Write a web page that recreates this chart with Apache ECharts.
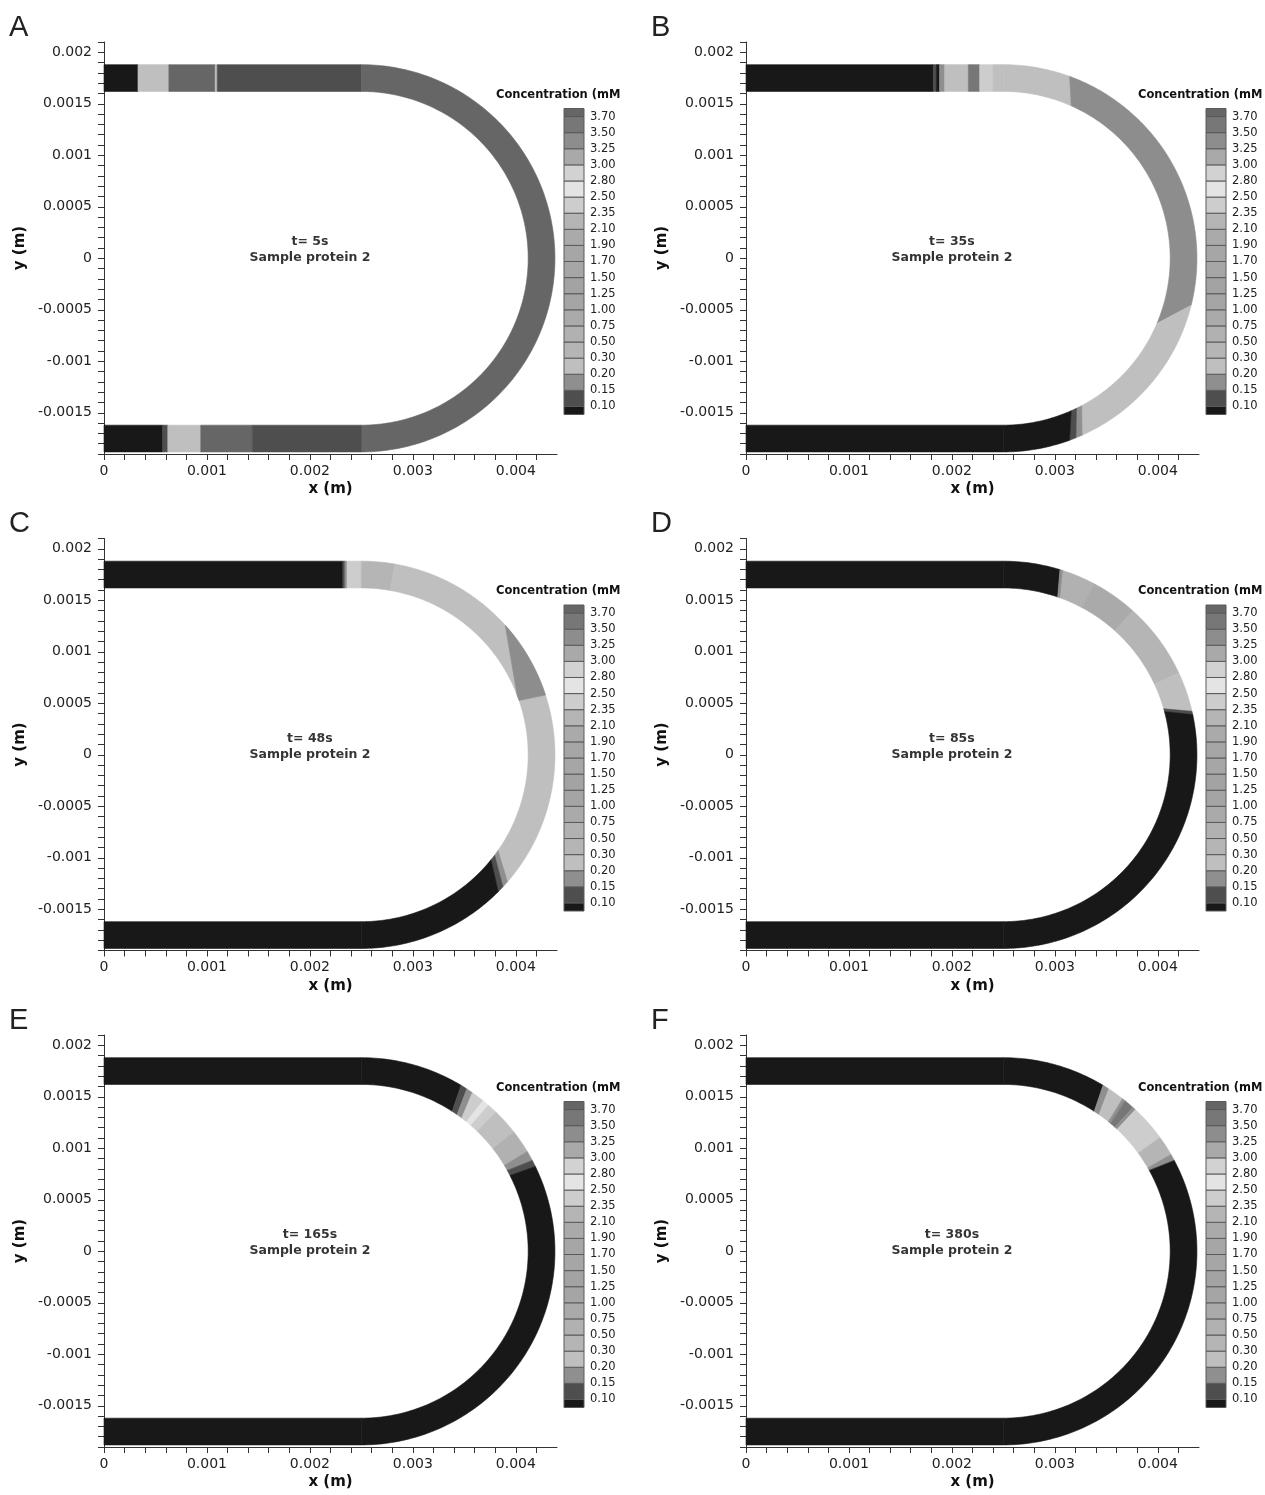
<!DOCTYPE html>
<html>
<head>
<meta charset="utf-8">
<title>Sample protein 2 concentration</title>
<script src="https://cdn.jsdelivr.net/npm/echarts@6.0.0/dist/echarts.min.js"></script>
<style>
html, body { margin: 0; padding: 0; background: #fff; }
#chart { width: 1265px; height: 1495px; }
</style>
</head>
<body>
<div id="chart"></div>
<script>
// legend levels (mM), bottom to top
const levelLabels = ['0.10', '0.15', '0.20', '0.30', '0.50', '0.75', '1.00', '1.25', '1.50', '1.70',
    '1.90', '2.10', '2.35', '2.50', '2.80', '3.00', '3.25', '3.50', '3.70'];
// one grey per band: below 0.10, between each pair of levels, above 3.70
const bandColors = ['#181818', '#4e4e4e', '#8f8f8f', '#bfbfbf', '#b5b5b5', '#b1b1b1', '#aaaaaa',
    '#a5a5a5', '#a3a3a3', '#a6a6a6', '#a6a6a6', '#aaaaaa', '#b5b5b5', '#cdcdcd', '#e4e4e4',
    '#d2d2d2', '#a9a9a9', '#8d8d8d', '#777777', '#666666'];

// channel geometry (m): straight legs to x = bendX, then a half ring round (bendX, 0)
const bendX = 0.0025;
const rIn = 0.00162;
const rOut = 0.00188;

// axis ticks (m)
const xLabels = [0, 0.001, 0.002, 0.003, 0.004];
const yLabels = [-0.0015, -0.001, -0.0005, 0, 0.0005, 0.001, 0.0015, 0.002];

const panelNames = ['A', 'B', 'C', 'D', 'E', 'F'];
const panelTimes = ['t= 5s', 't= 35s', 't= 48s', 't= 85s', 't= 165s', 't= 380s'];

// segments: [part, from, to, concentration, fromInner, toInner]
// top/bot: from, to = x (m); arc: from, to = angle (deg) on the outer wall, inner wall may differ
const segA = [
    ['top', 0, 0.00033, 0.05], ['top', 0.00033, 0.00063, 0.25], ['top', 0.00063, 0.00108, 3.8],
    ['top', 0.00108, 0.00110, 0.25], ['top', 0.00110, 0.0025, 0.12],
    ['arc', 90, -90, 3.8],
    ['bot', 0, 0.00057, 0.05], ['bot', 0.00057, 0.00062, 0.12], ['bot', 0.00062, 0.00094, 0.25],
    ['bot', 0.00094, 0.00144, 3.8], ['bot', 0.00144, 0.0025, 0.12]
];
const segB = [
    ['top', 0, 0.00182, 0.05], ['top', 0.00182, 0.00185, 0.12], ['top', 0.00185, 0.00188, 0.05],
    ['top', 0.00188, 0.00193, 0.18], ['top', 0.00193, 0.00216, 0.25], ['top', 0.00216, 0.00227, 3.6],
    ['top', 0.00227, 0.0024, 2.4], ['top', 0.0024, 0.0025, 0.25],
    ['arc', 90, 70, 0.25, 90, 66], ['arc', 70, -14, 3.4, 66, -23], ['arc', -14, -66, 0.25, -23, -62],
    ['arc', -66, -68, 0.18, -62, -64], ['arc', -68, -70, 0.12, -64, -66], ['arc', -70, -90, 0.05, -66, -90],
    ['bot', 0, 0.0025, 0.05]
];
const segC = [
    ['top', 0, 0.00232, 0.05], ['top', 0.00232, 0.00234, 0.12], ['top', 0.00234, 0.00236, 0.18],
    ['top', 0.00236, 0.0025, 2.4],
    ['arc', 90, 80, 0.4], ['arc', 80, -41, 0.25, 80, -35], ['arc', -41, -43, 0.18, -35, -37],
    ['arc', -43, -45, 0.12, -37, -39], ['arc', -45, -90, 0.05, -39, -90],
    ['arc', 42, 18, 3.4, 21, 19],
    ['bot', 0, 0.0025, 0.05]
];
const segD = [
    ['top', 0, 0.0025, 0.05],
    ['arc', 90, 73, 0.05, 90, 71], ['arc', 73, 72, 0.18, 71, 70], ['arc', 72, 62, 0.6, 70, 62],
    ['arc', 62, 48, 0.9], ['arc', 48, 25, 0.4], ['arc', 25, 13, 0.25, 25, 16],
    ['arc', 13, 12, 0.12, 16, 15], ['arc', 12, -90, 0.05, 15, -90],
    ['bot', 0, 0.0025, 0.05]
];
const segE = [
    ['top', 0, 0.0025, 0.05],
    ['arc', 90, 59, 0.05, 90, 57], ['arc', 59, 57, 0.12, 57, 55], ['arc', 57, 55, 0.18, 55, 53],
    ['arc', 55, 51, 2.4, 53, 51], ['arc', 51, 49, 2.6], ['arc', 49, 46, 2.4], ['arc', 46, 38, 0.25],
    ['arc', 38, 31, 0.6], ['arc', 31, 28, 0.18, 31, 29], ['arc', 28, 26, 0.12, 29, 27],
    ['arc', 26, -90, 0.05, 27, -90],
    ['bot', 0, 0.0025, 0.05]
];
const segF = [
    ['top', 0, 0.0025, 0.05],
    ['arc', 90, 59, 0.05, 90, 57], ['arc', 59, 57, 0.18, 57, 55], ['arc', 57, 52, 0.25, 55, 51],
    ['arc', 52, 51, 0.18, 51, 50], ['arc', 51, 48, 3.6, 50, 48], ['arc', 48, 47, 0.18],
    ['arc', 47, 36, 2.4], ['arc', 36, 30, 0.4], ['arc', 30, 28, 0.18, 30, 29],
    ['arc', 28, -90, 0.05, 29, -90],
    ['bot', 0, 0.0025, 0.05]
];
const panelSegments = [segA, segB, segC, segD, segE, segF];

const partCode = { top: 0, arc: 1, bot: 2 };
const levelValues = levelLabels.map(Number);
const font = 'DejaVu Sans';
const rowStep = 496.5;
const colStep = 642;

function round(v) {
    return Number(v.toFixed(5));
}

let xTicks = [];
for (let k = 0; k <= 21; k++) xTicks.push(round(k * 0.0002));
let yTicks = [];
for (let k = -19; k <= 21; k++) yTicks.push(round(k * 0.0001));

function polar(r, deg) {
    const t = deg * Math.PI / 180;
    return [bendX + r * Math.cos(t), r * Math.sin(t)];
}

// one polygon per channel segment, coloured by the visualMap
function renderSegment(params, api) {
    const part = api.value(0);
    const a = api.value(1), b = api.value(2), ai = api.value(4), bi = api.value(5);
    let pts = [];
    if (part === 1) {
        const n = Math.max(2, Math.ceil(Math.abs(a - b)));
        for (let k = 0; k <= n; k++) pts.push(polar(rOut, a + (b - a) * k / n));
        const m = Math.max(2, Math.ceil(Math.abs(ai - bi)));
        for (let k = 0; k <= m; k++) pts.push(polar(rIn, bi + (ai - bi) * k / m));
    } else {
        const s = part === 0 ? 1 : -1;
        pts = [[a, s * rOut], [b, s * rOut], [bi, s * rIn], [ai, s * rIn]];
    }
    const c = api.visual('color');
    return {
        type: 'polygon',
        shape: { points: pts.map(p => api.coord(p)) },
        style: { fill: c, stroke: c, lineWidth: 0.6 }
    };
}

// colour bar bands in level-index space
function renderBand(params, api) {
    const p0 = api.coord([0, api.value(1)]);
    const p1 = api.coord([1, api.value(0)]);
    return {
        type: 'rect',
        shape: { x: p0[0], y: p0[1], width: p1[0] - p0[0], height: p1[1] - p0[1] },
        style: { fill: bandColors[api.value(2)], stroke: '#5a5a5a', lineWidth: 1 }
    };
}

const pieces = bandColors.map((c, k) => {
    const p = { color: c };
    if (k > 0) p.gte = levelValues[k - 1];
    if (k < levelValues.length) p.lt = levelValues[k];
    return p;
});

const bandData = bandColors.map((c, k) => [k === 0 ? 0.5 : k, k === bandColors.length - 1 ? 19.5 : k + 1, k]);

let grid = [], xAxis = [], yAxis = [], series = [], graphic = [];

panelSegments.forEach((segs, i) => {
    const col = i % 2, row = Math.floor(i / 2);
    const left = 104 + col * colStep, top = 42 + row * rowStep;
    grid.push({ left: left, top: top, width: 453, height: 412 });
    xAxis.push({
        type: 'value', gridIndex: i, min: 0, max: 0.0044,
        name: 'x (m)', nameLocation: 'middle', nameGap: 28,
        nameTextStyle: { fontFamily: font, fontWeight: 'bold', fontSize: 15, color: '#111' },
        axisLine: { onZero: false, lineStyle: { color: '#333', width: 1 } },
        axisTick: { customValues: xTicks, length: 6, lineStyle: { color: '#333' } },
        axisLabel: { customValues: xLabels, formatter: v => String(round(v)), margin: 10,
            fontFamily: font, fontSize: 14, color: '#222' },
        splitLine: { show: false }
    });
    yAxis.push({
        type: 'value', gridIndex: i, min: -0.0019, max: 0.0021,
        name: 'y (m)', nameLocation: 'middle', nameGap: 76,
        nameTextStyle: { fontFamily: font, fontWeight: 'bold', fontSize: 15, color: '#111' },
        axisLine: { show: true, lineStyle: { color: '#333', width: 1 } },
        axisTick: { show: true, customValues: yTicks, length: 6, lineStyle: { color: '#333' } },
        axisLabel: { customValues: yLabels, formatter: v => String(round(v)), margin: 12,
            fontFamily: font, fontSize: 14, color: '#222' },
        splitLine: { show: false }
    });
    series.push({
        type: 'custom', xAxisIndex: i, yAxisIndex: i, renderItem: renderSegment, silent: true,
        data: segs.map(s => [partCode[s[0]], s[1], s[2], s[3],
            s.length > 4 ? s[4] : s[1], s.length > 5 ? s[5] : s[2]])
    });
    graphic.push({
        type: 'text', left: 9 + col * colStep, top: 13 + row * rowStep,
        style: { text: panelNames[i], font: '29px "Liberation Sans", Arial', fill: '#222' }
    });
    graphic.push({
        type: 'text', left: 496 + col * colStep, top: 89 + row * rowStep,
        style: { text: 'Concentration (mM', font: 'bold 11.5px "DejaVu Sans"', fill: '#111' }
    });
});

// colour bars
panelSegments.forEach((segs, i) => {
    const col = i % 2, row = Math.floor(i / 2);
    const g = 6 + i;
    grid.push({ left: 564 + col * colStep, top: 108.5 + row * rowStep, width: 20, height: 306 });
    xAxis.push({ type: 'value', gridIndex: g, min: 0, max: 1, show: false });
    yAxis.push({
        type: 'value', gridIndex: g, min: 0.5, max: 19.5, position: 'right',
        axisLine: { show: false }, axisTick: { show: false }, splitLine: { show: false },
        axisLabel: { customValues: levelLabels.map((l, k) => k + 1),
            formatter: v => levelLabels[Math.round(v) - 1], margin: 6,
            fontFamily: font, fontSize: 11.5, color: '#222' }
    });
    series.push({
        type: 'custom', xAxisIndex: g, yAxisIndex: g, renderItem: renderBand, silent: true,
        data: bandData
    });
});

// text labels in the middle of each panel
panelTimes.forEach((t, i) => {
    series.push({
        type: 'scatter', xAxisIndex: i, yAxisIndex: i, symbolSize: 0, silent: true, z: 5,
        data: [[0.002, 0.00008]],
        label: { show: true, position: 'inside', formatter: t + '\nSample protein 2',
            fontFamily: font, fontWeight: 'bold', fontSize: 12.5, lineHeight: 16, color: '#000',
            textBorderWidth: 0 }
    });
});

const myChart = echarts.init(document.getElementById('chart'));
myChart.setOption({
    animation: false,
    backgroundColor: '#fff',
    visualMap: [{
        type: 'piecewise', show: false, dimension: 3,
        seriesIndex: [0, 1, 2, 3, 4, 5], pieces: pieces
    }],
    grid: grid,
    xAxis: xAxis,
    yAxis: yAxis,
    series: series,
    graphic: graphic
});
</script>
</body>
</html>
